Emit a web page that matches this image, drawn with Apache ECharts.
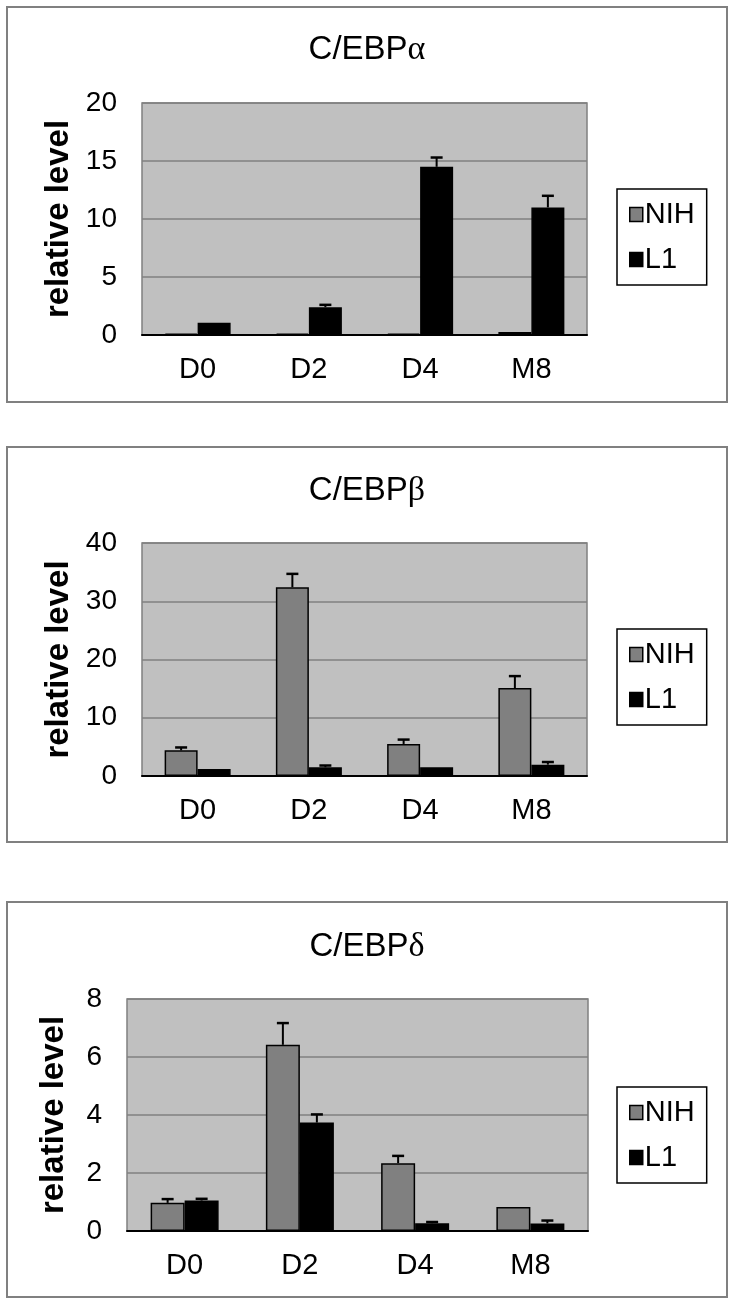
<!DOCTYPE html>
<html>
<head>
<meta charset="utf-8">
<script src="https://cdn.jsdelivr.net/npm/echarts@6/dist/echarts.min.js"></script>
<style>
  html, body { margin: 0; padding: 0; background: #fff; }
  #chart-container { width: 734px; height: 1305px; }
</style>
</head>
<body>
<div id="chart-container"></div>
<script>
var categories = ["D0", "D2", "D4", "M8"];
var greek = ["α", "β", "δ"];
var yMax = [20, 40, 8];
var yStep = [5, 10, 2];

// C/EBP alpha
var alphaNih = [0.12, 0.12, 0.12, 0.25];
var alphaNihErr = [0, 0, 0, 0];
var alphaL1 = [1.05, 2.4, 14.5, 11.0];
var alphaL1Err = [0, 0.2, 0.8, 1.0];

// C/EBP beta
var betaNih = [4.4, 32.4, 5.5, 15.1];
var betaNihErr = [0.5, 2.3, 0.75, 2.05];
var betaL1 = [1.2, 1.5, 1.5, 1.95];
var betaL1Err = [0, 0.3, 0, 0.45];

// C/EBP delta
var deltaNih = [0.97, 6.42, 2.34, 0.83];
var deltaNihErr = [0.13, 0.75, 0.25, 0];
var deltaL1 = [1.05, 3.74, 0.27, 0.26];
var deltaL1Err = [0.06, 0.28, 0.04, 0.1];

var panels = [
  { nih: alphaNih, nihErr: alphaNihErr, l1: alphaL1, l1Err: alphaL1Err },
  { nih: betaNih, nihErr: betaNihErr, l1: betaL1, l1Err: betaL1Err },
  { nih: deltaNih, nihErr: deltaNihErr, l1: deltaL1, l1Err: deltaL1Err }
];

// layout of the three boxes
var frameTop = [7, 447, 902];
var gridPos = [
  { left: 142, top: 103, width: 445, height: 232 },
  { left: 142, top: 543, width: 445, height: 233 },
  { left: 127, top: 999, width: 461, height: 232 }
];
var titleTop = [33, 474, 930];
var legendTop = [189, 629, 1087];
var barW = [33, 33, 34];

var font = "Liberation Sans, Arial, sans-serif";

var dom = document.getElementById("chart-container");
var myChart = echarts.init(dom, null, { renderer: "canvas" });

function errRenderer(shift) {
  return function (params, api) {
    var cat = api.value(0);
    var top = api.value(1);
    var base = api.value(2);
    if (!(top > base)) return null;
    var p0 = api.coord([cat, base]);
    var p1 = api.coord([cat, top]);
    var x = p0[0] + shift;
    return {
      type: "group",
      children: [
        { type: "line", shape: { x1: x, y1: p0[1], x2: x, y2: p1[1] }, style: { stroke: "#000", lineWidth: 2 } },
        { type: "line", shape: { x1: x - 6, y1: p1[1], x2: x + 6, y2: p1[1] }, style: { stroke: "#000", lineWidth: 2.5 } }
      ]
    };
  };
}

function errData(vals, errs) {
  return vals.map(function (v, i) {
    return [i, v + errs[i], v];
  });
}

var grids = [], xAxes = [], yAxes = [], series = [], titles = [], legends = [], graphics = [];

panels.forEach(function (p, k) {
  grids.push({
    left: gridPos[k].left, top: gridPos[k].top,
    width: gridPos[k].width, height: gridPos[k].height,
    show: true, backgroundColor: "#c0c0c0",
    borderColor: "#808080", borderWidth: 1.5
  });
  xAxes.push({
    type: "category", gridIndex: k, data: categories,
    axisLine: { lineStyle: { color: "#000", width: 2 } },
    axisTick: { show: false },
    axisLabel: { color: "#000", fontSize: 29, fontFamily: font, margin: 20 }
  });
  yAxes.push({
    type: "value", gridIndex: k, min: 0, max: yMax[k], interval: yStep[k],
    name: "relative level", nameLocation: "middle", nameGap: 57,
    nameTextStyle: { color: "#000", fontSize: 33, fontWeight: "bold", fontFamily: font },
    axisLine: { show: false }, axisTick: { show: false },
    axisLabel: { color: "#000", fontSize: 28, fontFamily: font, margin: 25 },
    splitLine: { lineStyle: { color: "#808080", width: 1.5 } }
  });
  series.push({
    name: "NIH", type: "bar", xAxisIndex: k, yAxisIndex: k,
    data: p.nih, barWidth: barW[k], barGap: "0%",
    itemStyle: { color: "#808080", borderColor: "#000", borderWidth: 1.5 }
  });
  series.push({
    name: "L1", type: "bar", xAxisIndex: k, yAxisIndex: k,
    data: p.l1, barWidth: barW[k], barGap: "0%",
    itemStyle: { color: "#000", borderColor: "#000", borderWidth: 1.5 }
  });
  series.push({
    type: "custom", xAxisIndex: k, yAxisIndex: k, z: 5, silent: true,
    renderItem: errRenderer(-barW[k] / 2),
    encode: { x: 0, y: [1, 2] },
    data: errData(p.nih, p.nihErr)
  });
  series.push({
    type: "custom", xAxisIndex: k, yAxisIndex: k, z: 5, silent: true,
    renderItem: errRenderer(barW[k] / 2),
    encode: { x: 0, y: [1, 2] },
    data: errData(p.l1, p.l1Err)
  });
  titles.push({
    text: "C/EBP{g|" + greek[k] + "}",
    left: "center", top: titleTop[k], padding: 0,
    textStyle: {
      color: "#000", fontSize: 33, fontWeight: "normal", fontFamily: font,
      rich: { g: { fontSize: 34, fontFamily: "Liberation Serif, serif", color: "#000" } }
    }
  });
  legends.push({
    orient: "vertical", left: 617, top: legendTop[k],
    padding: [11, 12, 11, 12], itemGap: 16,
    itemWidth: 13, itemHeight: 14, icon: "rect",
    backgroundColor: "#fff", borderColor: "#000", borderWidth: 1.5,
    textStyle: { color: "#000", fontSize: 29, fontFamily: font, padding: [0, 0, 0, -3] },
    data: [
      { name: "NIH", itemStyle: { color: "#808080", borderColor: "#000", borderWidth: 1.5 } },
      { name: "L1", itemStyle: { color: "#000", borderColor: "#000", borderWidth: 1.5 } }
    ]
  });
  graphics.push({
    type: "rect", z: -10,
    shape: { x: 7, y: frameTop[k], width: 720, height: 395 },
    style: { fill: "#fff", stroke: "#808080", lineWidth: 2 }
  });
});

var option = {
  backgroundColor: "#fff",
  animation: false,
  title: titles,
  legend: legends,
  grid: grids,
  xAxis: xAxes,
  yAxis: yAxes,
  graphic: graphics,
  series: series
};

myChart.setOption(option);
window.addEventListener("resize", myChart.resize);
</script>
</body>
</html>
